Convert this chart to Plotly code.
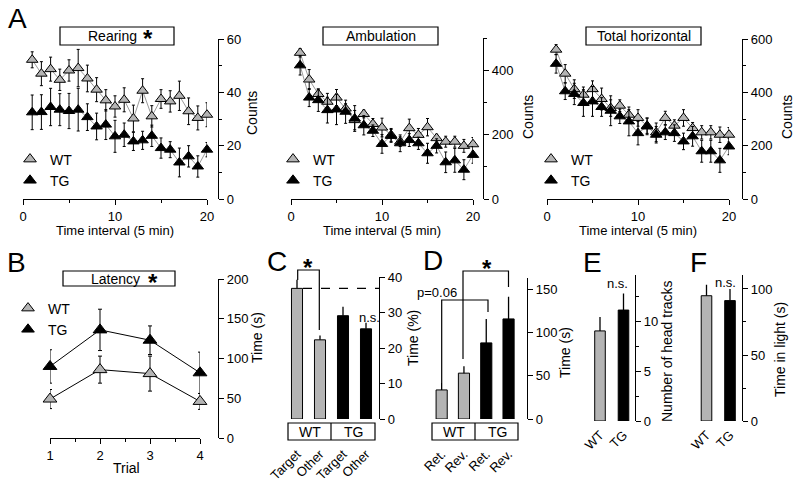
import plotly.graph_objects as go

W, H = 800, 489
FONT = "Liberation Sans, Arial, Helvetica, sans-serif"
GREY = "#b4b4b4"

# ---------------- data ----------------
intervals = list(range(1, 21))
rearing_wt = [52.2, 47.0, 48.7, 44.7, 48.2, 49.1, 45.2, 41.0, 37.0, 34.7, 37.2, 30.2, 40.6, 31.0, 37.5, 36.6, 38.7, 32.9, 30.4, 31.6]
rearing_wt_err = [3.0, 4.5, 4.5, 4.0, 4.0, 7.0, 5.0, 4.5, 4.0, 4.0, 4.5, 5.0, 4.5, 4.0, 3.5, 4.0, 5.5, 5.0, 4.5, 4.5]
rearing_tg = [32.5, 32.6, 34.5, 33.5, 33.0, 33.5, 30.7, 27.2, 27.9, 23.5, 24.1, 21.6, 22.0, 23.7, 19.1, 18.5, 13.7, 16.0, 12.2, 18.5]
rearing_tg_err = [6.5, 6.5, 7.0, 6.0, 6.6, 8.0, 5.0, 5.0, 5.6, 6.0, 4.4, 3.4, 3.4, 4.0, 3.8, 3.0, 5.4, 4.0, 4.0, 2.7]

ambulation_wt = [454, 371, 326, 302, 315, 281, 245, 264, 233, 222, 199, 178, 220, 199, 223, 189, 178, 178, 165, 170]
ambulation_wt_err = [13, 31, 15, 26, 25, 15, 30, 12, 17, 29, 20, 15, 28, 20, 27, 12, 17, 17, 20, 21]
ambulation_tg = [415, 315, 307, 276, 278, 271, 250, 229, 212, 171, 196, 173, 183, 173, 142, 165, 114, 120, 91, 137]
ambulation_tg_err = [30, 28, 35, 40, 47, 36, 40, 30, 18, 29, 20, 26, 20, 19, 31, 22, 32, 37, 31, 26]

total_wt = [560, 470, 412, 391, 412, 375, 341, 350, 316, 304, 275, 250, 304, 275, 304, 266, 250, 250, 241, 241]
total_wt_err = [19, 34, 35, 29, 31, 41, 31, 22, 19, 31, 29, 35, 25, 22, 31, 21, 25, 25, 29, 27]
total_tg = [507, 404, 394, 360, 366, 345, 331, 310, 291, 247, 272, 241, 250, 247, 216, 235, 179, 179, 145, 197]
total_tg_err = [35, 31, 40, 50, 56, 35, 56, 27, 54, 44, 31, 31, 27, 31, 31, 37, 41, 41, 45, 31]

trials = [1, 2, 3, 4]
latency_wt = [49, 86, 81, 46]
latency_wt_err = [12, 17, 22, 10]
latency_tg = [90, 136, 123, 82]
latency_tg_err = [21, 26, 18, 26]

c_cats = ["WT Target", "WT Other", "TG Target", "TG Other"]
c_ticks = ["Target", "Other", "Target", "Other"]
c_vals = [36.8, 22.3, 29.1, 25.4]
c_err = [2.4, 1.2, 2.5, 1.7]

d_cats = ["WT Ret.", "WT Rev.", "TG Ret.", "TG Rev."]
d_ticks = ["Ret.", "Rev.", "Ret.", "Rev."]
d_vals = [33.6, 53.0, 88.0, 115.7]
d_err = [8.0, 8.0, 27.7, 25.5]

ef_cats = ["WT", "TG"]
e_vals = [9.07, 11.17]
e_err = [1.4, 1.67]
f_vals = [94.9, 91.2]
f_err = [8.3, 8.8]

bar_colors4 = [GREY, GREY, "black", "black"]
bar_colors2 = [GREY, "black"]


def px(x):
    return x / W


def py(y):
    return 1 - y / H


fig = go.Figure()

# ---------------- line panels ----------------
line_panels = [
    ("x", "y", rearing_wt, rearing_wt_err, rearing_tg, rearing_tg_err, "legend"),
    ("x2", "y2", ambulation_wt, ambulation_wt_err, ambulation_tg, ambulation_tg_err, "legend2"),
    ("x3", "y3", total_wt, total_wt_err, total_tg, total_tg_err, "legend3"),
]
for xa, ya, wt, wte, tg, tge, lg in line_panels:
    for vals, errs, col in ((wt, wte, GREY), (tg, tge, "black")):
        fig.add_trace(go.Scatter(
            x=intervals, y=vals, xaxis=xa, yaxis=ya, mode="lines+markers",
            line=dict(color="#555555", width=0.6),
            marker=dict(symbol="triangle-up", size=10, color=col, line=dict(color="black", width=1)),
            error_y=dict(type="data", array=errs, color="black", thickness=1, width=1.5),
            cliponaxis=False, showlegend=False))
    for name, col in (("WT", GREY), ("TG", "black")):
        fig.add_trace(go.Scatter(
            x=[None], y=[None], xaxis=xa, yaxis=ya, mode="markers", name=name, legend=lg,
            marker=dict(symbol="triangle-up", size=11, color=col, line=dict(color="black", width=1))))

# panel B
for vals, errs, col in ((latency_wt, latency_wt_err, GREY), (latency_tg, latency_tg_err, "black")):
    fig.add_trace(go.Scatter(
        x=trials, y=vals, xaxis="x4", yaxis="y4", mode="lines+markers",
        line=dict(color="black", width=1),
        marker=dict(symbol="triangle-up", size=12, color=col, line=dict(color="black", width=1)),
        error_y=dict(type="data", array=errs, color="black", thickness=1, width=2),
        cliponaxis=False, showlegend=False))
for name, col in (("WT", GREY), ("TG", "black")):
    fig.add_trace(go.Scatter(
        x=[None], y=[None], xaxis="x4", yaxis="y4", mode="markers", name=name, legend="legend4",
        marker=dict(symbol="triangle-up", size=11, color=col, line=dict(color="black", width=1))))

# ---------------- bar panels ----------------
bar_panels = [
    ("x5", "y5", c_cats, c_vals, c_err, bar_colors4, 0.48),
    ("x6", "y6", d_cats, d_vals, d_err, bar_colors4, 0.5),
    ("x7", "y7", ef_cats, e_vals, e_err, bar_colors2, 0.45),
    ("x8", "y8", ef_cats, f_vals, f_err, bar_colors2, 0.45),
]
for xa, ya, cats, vals, errs, cols, wd in bar_panels:
    fig.add_trace(go.Bar(
        x=cats, y=vals, xaxis=xa, yaxis=ya, width=wd,
        marker=dict(color=cols, line=dict(color="black", width=1)),
        error_y=dict(type="data", array=errs, arrayminus=[0] * len(errs), symmetric=False,
                     color="black", thickness=1.3, width=0),
        showlegend=False))

# ---------------- axes ----------------
axis_font = dict(family=FONT, size=13, color="black")


def yax(lo_px, hi_px, rng, pos, dtick, minor=None):
    d = dict(domain=[py(lo_px), py(hi_px)], range=rng, anchor="free", position=px(pos), side="right",
             showline=True, linecolor="black", linewidth=1.2, ticks="outside", ticklen=5, tickwidth=1.2,
             tickcolor="black", showgrid=False, zeroline=False, dtick=dtick, tick0=0,
             tickfont=axis_font, automargin=False)
    if minor:
        d["minor"] = dict(dtick=minor, tick0=0, ticks="outside", ticklen=3, tickwidth=1.2, tickcolor="black",
                          showgrid=False)
    return d


def xline(l_px, r_px, rng, anchor, dtick, minor):
    return dict(domain=[px(l_px), px(r_px)], range=rng, anchor=anchor, showline=True, linecolor="black",
                linewidth=1.2, ticks="outside", ticklen=5, tickwidth=1.2, tickcolor="black",
                showgrid=False, zeroline=False, dtick=dtick, tick0=0, tickfont=axis_font, automargin=False,
                minor=dict(dtick=minor, tick0=0, ticks="outside", ticklen=3, tickwidth=1.2,
                           tickcolor="black", showgrid=False))


def xcat(l_px, r_px, anchor, cats, ticks, standoff):
    return dict(domain=[px(l_px), px(r_px)], anchor=anchor, type="category", showline=False, ticks="",
                showgrid=False, zeroline=False, tickangle=-45, tickvals=cats, ticktext=ticks,
                tickfont=axis_font, ticklabelstandoff=standoff, range=[-0.5, len(cats) - 0.5],
                automargin=False)


layout = dict(
    width=W, height=H, margin=dict(l=0, r=0, t=0, b=0, pad=0, autoexpand=False),
    paper_bgcolor="white", plot_bgcolor="white",
    font=dict(family=FONT, size=13, color="black"),
    xaxis=xline(23, 207, [0, 20], "y", 10, 5),
    yaxis=yax(199, 39, [0, 60], 218, 20, 10),
    xaxis2=xline(291, 473, [0, 20], "y2", 10, 5),
    yaxis2=yax(199, 38, [0, 500], 483, 200, 100),
    xaxis3=xline(547, 729, [0, 20], "y3", 10, 5),
    yaxis3=yax(199, 39, [0, 600], 742, 200, 100),
    xaxis4=dict(xline(50, 200, [1, 4], "y4", 1, 0.5), tick0=1),
    yaxis4=yax(438, 279, [0, 200], 218, 50),
    xaxis5=xcat(285.5, 377.5, "y5", c_cats, c_ticks, 24),
    yaxis5=yax(419, 277, [0, 40], 379, 10),
    xaxis6=xcat(430.5, 519.7, "y6", d_cats, d_ticks, 24),
    yaxis6=yax(419, 278, [0, 163], 527, 50),
    xaxis7=xcat(588.25, 635.25, "y7", ef_cats, ef_cats, 3),
    yaxis7=yax(421, 275, [0, 14.7], 635, 5, 2.5),
    xaxis8=xcat(694.75, 741.75, "y8", ef_cats, ef_cats, 3),
    yaxis8=yax(421, 275, [0, 110.6], 742, 50, 25),
)

# legends (one per line panel, two entries each)
legend_pos = {
    "legend": (30, 170), "legend2": (293, 170), "legend3": (551, 170), "legend4": (28, 319),
}
for k, (lx, ly) in legend_pos.items():
    layout[k] = dict(x=px(lx - 20), y=py(ly), xanchor="left", yanchor="middle", tracegroupgap=0,
                     bgcolor="rgba(0,0,0,0)", borderwidth=0, font=dict(family=FONT, size=14, color="black"))

fig.update_layout(**layout)

# ---------------- shapes ----------------
shapes = []


def rect(x0, y0, x1, y1):
    shapes.append(dict(type="rect", xref="paper", yref="paper", x0=px(x0), y0=py(y0), x1=px(x1), y1=py(y1),
                       line=dict(color="black", width=1.2), fillcolor="rgba(0,0,0,0)"))


def poly(pts, dash="solid"):
    path = "M " + " L ".join(f"{px(a):.5f},{py(b):.5f}" for a, b in pts)
    shapes.append(dict(type="path", xref="paper", yref="paper", path=path,
                       line=dict(color="black", width=1.2, dash=dash)))


rect(60, 27, 174, 45)
rect(323, 27, 438, 45)
rect(586, 27, 701, 45)
rect(63, 271, 175, 286)
rect(288, 423, 375, 440)
poly([(331, 423), (331, 440)])
rect(432, 423, 518, 440)
poly([(475, 423), (475, 440)])
# brackets
poly([(297.7, 280), (297.7, 270), (319.3, 270), (319.3, 330)])
poly([(441.7, 383), (441.7, 300), (488, 300), (488, 312)])
poly([(463, 359), (463, 271), (508.5, 271), (508.5, 287)])
# dashed reference line in C at WT target level
shapes.append(dict(type="line", xref="paper", yref="y5", x0=px(303), x1=px(379), y0=c_vals[0], y1=c_vals[0],
                   line=dict(color="black", width=1.2, dash="dash")))
fig.update_layout(shapes=shapes)

# ---------------- annotations ----------------
ann = []


def text(x, y, t, size=14, angle=0, bold=False):
    ann.append(dict(x=px(x), y=py(y), xref="paper", yref="paper", text=f"<b>{t}</b>" if bold else t,
                    showarrow=False, xanchor="center", yanchor="middle", textangle=angle,
                    font=dict(family=FONT, size=size, color="black")))


for lab, (x, y) in zip("ABCDEF", [(17, 18), (16, 262), (277, 261), (433, 260), (592, 262), (698, 262)]):
    text(x, y, lab, size=28)
text(113, 36, "Rearing")
text(148, 39, "*", size=24, bold=True)
text(380.5, 36, "Ambulation")
text(643.5, 36, "Total horizontal")
text(116, 278.5, "Latency")
text(153, 282, "*", size=24, bold=True)
for x in (115, 382, 638):
    text(x, 230, "Time interval (5 min)", size=13)
text(126, 468, "Trial")
for x, y in ((252, 113), (528, 117), (787, 117)):
    text(x, y, "Counts", angle=-90)
text(257, 338, "Time (s)", angle=-90)
text(413, 338, "Time (%)", angle=-90)
text(565, 353, "Time (s)", angle=-90)
text(667, 351, "Number of head tracks", angle=-90)
text(780, 350, "Time in light (s)", angle=-90)
text(308, 267, "*", size=24, bold=True)
text(487, 268, "*", size=24, bold=True)
text(437, 292, "p=0.06", size=13)
text(369, 317, "n.s.", size=13)
text(617, 283, "n.s.", size=13)
text(725, 282, "n.s.", size=13)
for x, t in ((310, "WT"), (353, "TG"), (454, "WT"), (497, "TG")):
    text(x, 432, t, size=14)
fig.update_layout(annotations=ann)

fig.write_html("out.html", post_script="document.body.style.margin='0px';",
               config={"displayModeBar": False})
